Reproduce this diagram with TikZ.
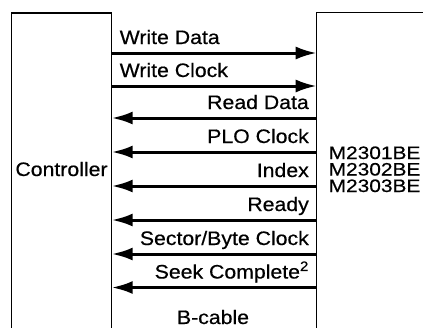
\documentclass[tikz,border=0pt]{standalone}
\usepackage{fontspec}
\newfontfamily\labfont[FakeStretch=1.09,FakeBold=0.5]{Liberation Sans}
\newfontfamily\modfont[FakeStretch=1.16,FakeBold=0.5]{Liberation Sans}
\usetikzlibrary{arrows.meta}
\begin{document}
\begin{tikzpicture}[x=1pt,y=-1pt,
  box/.style={line width=1.3pt},
  sig/.style={line width=3pt, -{Latex[length=21pt,width=13pt]}},
  lbl/.style={inner sep=0pt, font=\labfont\fontsize{19.5}{19.5}\selectfont},
  mod/.style={inner sep=0pt, text height=13pt, text depth=0pt, font=\modfont\fontsize{18}{18}\selectfont},
  frame/.style={inner sep=0pt, outer sep=0pt}]
\useasboundingbox (0,0) rectangle (423,327);
\clip (0,0) rectangle (423,327);
\fill[white] (0,0) rectangle (423,327);
\node[frame, minimum width=100pt, minimum height=330pt, anchor=north west] (ctrl) at (11.7,13) {};
\node[frame, minimum width=120pt, minimum height=330pt, anchor=north west] (drv) at (316.7,12.5) {};
\draw[box] (ctrl.south west) -- (ctrl.north west) -- (ctrl.north east) -- (ctrl.south east);
\draw[box] (drv.south west) -- (drv.north west) -- (drv.north east);
% signal rows
\coordinate (y1) at (0,53);
\coordinate (y2) at (0,86);
\coordinate (y3) at (0,118);
\coordinate (y4) at (0,152);
\coordinate (y5) at (0,186);
\coordinate (y6) at (0,220);
\coordinate (y7) at (0,254);
\coordinate (y8) at (0,287.5);
\draw[sig] (ctrl.east |- y1) -- (drv.west |- y1);
\draw[sig] (ctrl.east |- y2) -- (drv.west |- y2);
\draw[sig] (drv.west |- y3) -- (ctrl.east |- y3);
\draw[sig] (drv.west |- y4) -- (ctrl.east |- y4);
\draw[sig] (drv.west |- y5) -- (ctrl.east |- y5);
\draw[sig] (drv.west |- y6) -- (ctrl.east |- y6);
\draw[sig] (drv.west |- y7) -- (ctrl.east |- y7);
\draw[sig] (drv.west |- y8) -- (ctrl.east |- y8);
% labels
\node[lbl, anchor=base west] (wd) at (119.5,44) {Write Data};
\node[lbl, anchor=base west] (wc) at (119.5,77) {Write Clock};
\node[lbl, anchor=base east] (rd) at (309,109) {Read Data};
\node[lbl, anchor=base east] (plo) at (309,143) {PLO Clock};
\node[lbl, anchor=base east] (idx) at (309,177) {Index};
\node[lbl, anchor=base east] (rdy) at (309,211) {Ready};
\node[lbl, anchor=base east] (sbc) at (309,245) {Sector/Byte Clock};
\node[lbl, anchor=base east] (sk) at (309,278.5) {Seek Complete\textsuperscript{2}};
\node[lbl, anchor=base, text depth=0pt] (bc) at (213,324) {B-cable};
\node[lbl, anchor=base] (ct) at (61.5,176) {Controller};
\node[mod, anchor=base west] (m1) at (328.5,159) {M2301BE};
\node[mod, anchor=base west] (m2) at (328.5,175.5) {M2302BE};
\node[mod, anchor=base west] (m3) at (328.5,192) {M2303BE};
\end{tikzpicture}
\end{document}
